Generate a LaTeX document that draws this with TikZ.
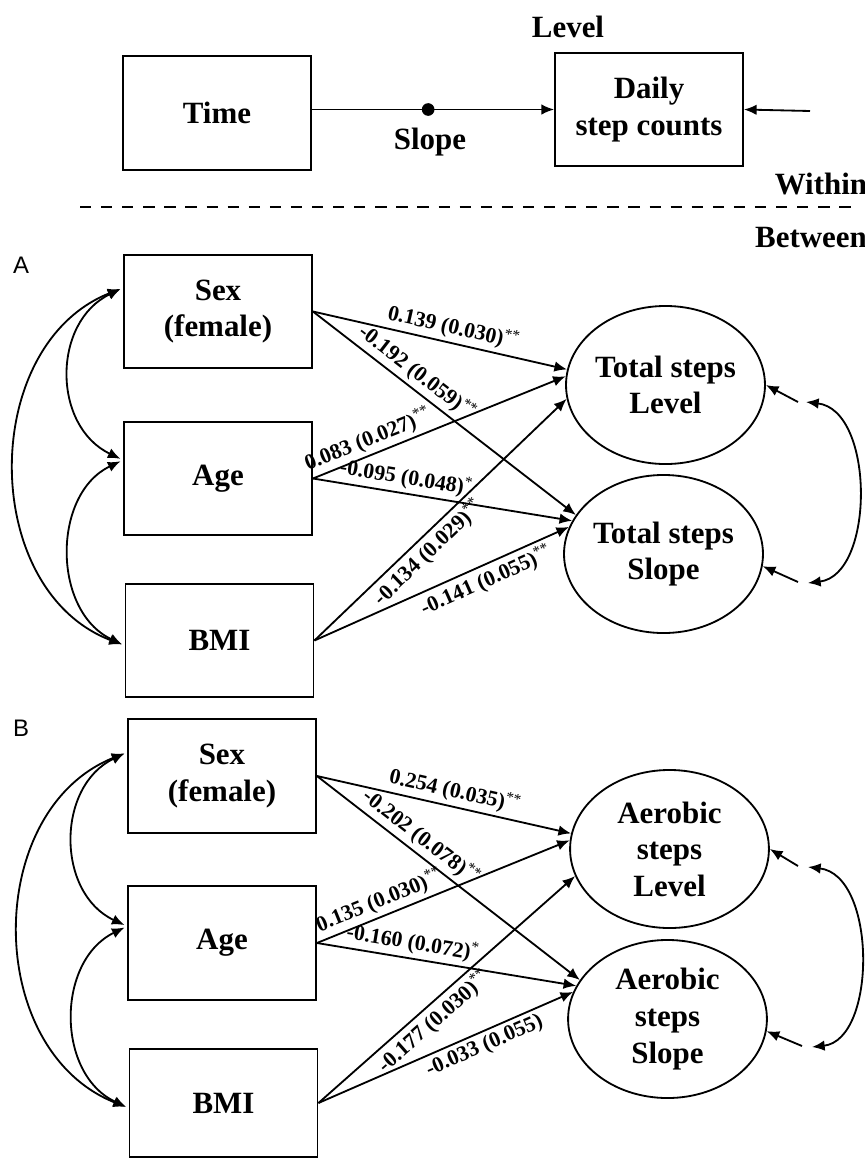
\documentclass[tikz,border=0pt]{standalone}
\usepackage{fontspec}
\setmainfont{Liberation Serif}
\newfontfamily\panelfont{Liberation Sans}
\usetikzlibrary{shapes.geometric,arrows.meta}
\newcommand{\stars}[1]{\textsuperscript{\mdseries #1}}

\begin{document}
\begin{tikzpicture}[%
        x=0.025cm, y=-0.025cm,
        every node/.style={font=\fontsize{22}{26}\selectfont\bfseries, align=center, inner sep=0pt},
        box/.style={draw, rectangle, minimum width=4.7cm, minimum height=2.83cm},
        lat/.style={draw, ellipse, minimum width=4.97cm, minimum height=3.95cm},
        lab/.style={font=\fontsize{15.5}{17}\selectfont\bfseries, sloped, inner sep=2.5pt},
        cov/.style={<->, shorten <=2pt, shorten >=2pt},
        line width=1.3pt, >={Latex[length=9pt,width=7.5pt]}
      ]
      \useasboundingbox (0,0) rectangle (865,1159);

      % within
      \node (lvl) at (568,27) {Level};
      \node [box] (t) at (217,113) {Time};
      \node [box] (d) at (649,109.5) {Daily\\step counts};
      \node (slp) at (430,142) {Slope};
      \node (w) at (821,184) {Within};
      \node (bw) at (811,238) {Between};
      \coordinate (e0) at (810,111);
      \draw [->] (t.east |- d.west) -- node [circle, fill, minimum size=9pt, pos=0.48] (dot) {} (d.west);
      \draw [->] (e0) -- (d.east);
      \draw [dash pattern=on 8pt off 7pt] (80,207) -- (855,207);

      % A
      \node [font=\fontsize{17}{19}\selectfont\panelfont] (pa) at (21,265) {A};
      \node [box] (s1) at (218,311.5) {Sex\\(female)};
      \node [box] (a1) at (218,478.5) {Age};
      \node [box] (b1) at (219.5,640.5) {BMI};
      \node [lat] (lv1) at (665.5,385) {Total steps\\Level};
      \node [lat] (sl1) at (663.5,554) {Total steps\\Slope};
      \draw [cov] (s1.166) .. controls (52,322) and (52,426) .. (a1.169);
      \draw [cov] (a1.169) .. controls (52,494) and (52,611) .. (b1.183);
      \draw [cov] (s1.166) .. controls (-21,345) and (-21,590) .. (b1.183);
      \draw [->] (s1.east) -- node [lab, above, pos=0.54] {0.139 (0.030)\stars{**}} (lv1.171);
      \draw [->] (s1.east) -- node [lab, above, pos=0.36] {-0.192 (0.059)\stars{**}} (sl1.156);
      \draw [->] (a1.east) -- node [lab, above, pos=0.24] {0.083 (0.027)\stars{**}} (lv1.175);
      \draw [->] (a1.east) -- node [lab, above, pos=0.35] {-0.095 (0.048)\stars{*}} (sl1.160);
      \draw [->] (b1.east) -- node [lab, below, pos=0.41] {-0.134 (0.029)\stars{**}} (lv1.188);
      \draw [->] (b1.east) -- node [lab, below, pos=0.65] {-0.141 (0.055)\stars{**}} (sl1.164);
      \coordinate (e1) at (798,402);
      \coordinate (v1) at (806,402);
      \coordinate (e2) at (798,582);
      \coordinate (v2) at (808,583);
      \draw [->] (e1) -- (lv1.east);
      \draw [->] (e2) -- (sl1.-7);
      \draw [<->] (v1) .. controls (875,410) and (875,575) .. (v2);

      % B
      \node [font=\fontsize{17}{19}\selectfont\panelfont] (pb) at (21,728) {B};
      \node [box] (s2) at (222,776) {Sex\\(female)};
      \node [box] (a2) at (222,943) {Age};
      \node [box, minimum height=2.7cm] (b2) at (223.5,1103) {BMI};
      \node [lat] (lv2) at (669.5,849) {Aerobic\\steps\\Level};
      \node [lat] (sl2) at (667.5,1019) {Aerobic\\steps\\Slope};
      \draw [cov] (s2.166) .. controls (56,786) and (56,893) .. (a2.170);
      \draw [cov] (a2.170) .. controls (56,961) and (56,1074) .. (b2.183);
      \draw [cov] (s2.166) .. controls (-17,810) and (-17,1050) .. (b2.183);
      \draw [->] (s2.east) -- node [lab, above, pos=0.53] {0.254 (0.035)\stars{**}} (lv2.171);
      \draw [->] (s2.east) -- node [lab, above, pos=0.36] {-0.202 (0.078)\stars{**}} (sl2.156);
      \draw [->] (a2.east) -- node [lab, above, pos=0.27] {0.135 (0.030)\stars{**}} (lv2.175);
      \draw [->] (a2.east) -- node [lab, above, pos=0.36] {-0.160 (0.072)\stars{*}} (sl2.160);
      \draw [->] (b2.east) -- node [lab, below, pos=0.41] {-0.177 (0.030)\stars{**}} (lv2.196);
      \draw [->] (b2.east) -- node [lab, below, pos=0.63] {-0.033 (0.055)} (sl2.164);
      \coordinate (e3) at (798,866);
      \coordinate (v3) at (808,867);
      \coordinate (e4) at (802,1046);
      \coordinate (v4) at (812,1047);
      \draw [->] (e3) -- (lv2.east);
      \draw [->] (e4) -- (sl2.-7);
      \draw [<->] (v3) .. controls (877,875) and (877,1040) .. (v4);
    \end{tikzpicture}
\end{document}
